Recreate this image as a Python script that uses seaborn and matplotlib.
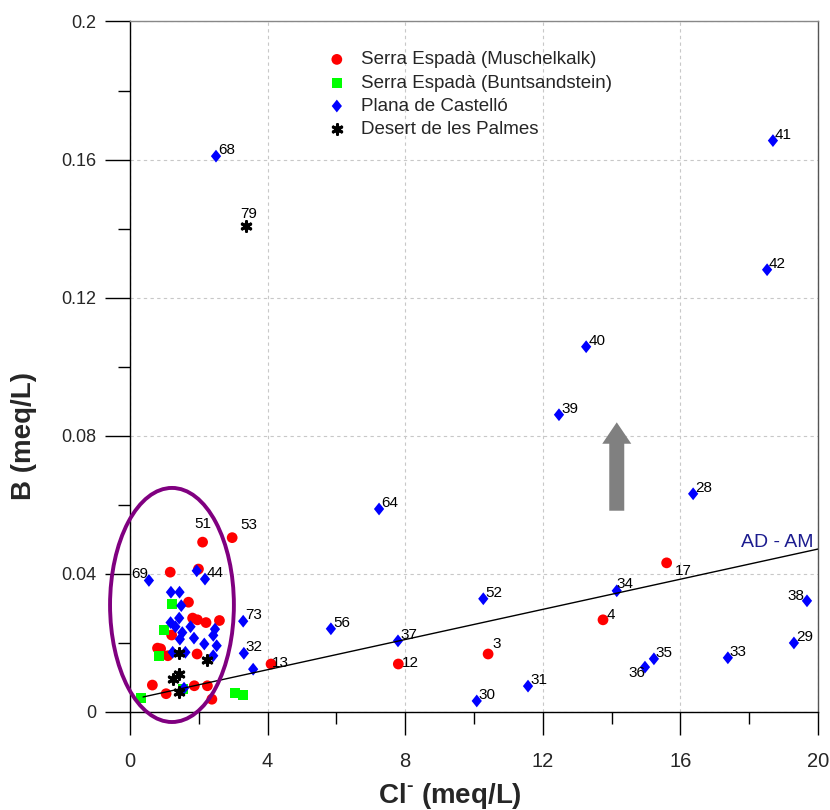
import numpy as np
import pandas as pd
import matplotlib
matplotlib.use("Agg")
import matplotlib.pyplot as plt
import seaborn as sns
from matplotlib.patches import Ellipse, FancyArrow
from matplotlib.ticker import MultipleLocator
from matplotlib.path import Path

# ---------------- data ----------------
musch_x = [2.11, 2.97, 1.17, 1.99, 1.70, 1.82, 1.96, 2.21, 2.60, 1.21, 0.80, 0.89,
           1.10, 1.95, 0.65, 1.05, 1.87, 2.25, 2.38, 4.10, 7.80, 10.41, 13.75, 15.60]
musch_y = [0.0492, 0.0505, 0.0405, 0.0414, 0.0318, 0.0272, 0.0267, 0.0259, 0.0265,
           0.0223, 0.0185, 0.0183, 0.0163, 0.0168, 0.0078, 0.0053, 0.0076, 0.0076,
           0.0037, 0.0139, 0.0139, 0.0168, 0.0267, 0.0432]
musch_lab = ["51", "53", "", "", "", "", "", "", "", "", "", "",
             "", "", "", "", "", "", "", "13", "12", "3", "4", "17"]

bunt_x = [1.23, 1.00, 0.84, 0.32, 1.55, 3.05, 3.28]
bunt_y = [0.0312, 0.0238, 0.0162, 0.0040, 0.0066, 0.0056, 0.0049]

plana_x = [2.50, 18.69, 18.52, 13.26, 12.47, 16.37, 7.24, 14.15, 19.68, 19.30, 17.38,
           15.23, 14.97, 10.27, 10.08, 11.57, 7.79, 5.84, 0.55, 2.18, 3.29, 3.31,
           1.94, 1.19, 1.44, 1.49, 1.43, 1.18, 1.32, 1.76, 1.52, 2.47, 2.42, 1.45,
           1.86, 2.16, 2.52, 1.24, 1.61, 2.42, 3.58, 1.57]
plana_y = [0.1610, 0.1655, 0.1281, 0.1058, 0.0861, 0.0632, 0.0588, 0.0351, 0.0322,
           0.0200, 0.0157, 0.0154, 0.0130, 0.0328, 0.0032, 0.0075, 0.0206, 0.0241,
           0.0381, 0.0385, 0.0263, 0.0170,
           0.0409, 0.0347, 0.0347, 0.0308, 0.0272, 0.0259, 0.0247, 0.0247, 0.0230,
           0.0240, 0.0222, 0.0211, 0.0214, 0.0197, 0.0192, 0.0173, 0.0173, 0.0163,
           0.0124, 0.0069]
plana_lab = ["68", "41", "42", "40", "39", "28", "64", "34", "38", "29", "33",
             "35", "36", "52", "30", "31", "37", "56", "69", "44", "73", "32"] + [""] * 20

desert_x = [1.42, 2.25, 1.43, 1.24, 1.42, 3.36]
desert_y = [0.0170, 0.0151, 0.0109, 0.0095, 0.0057, 0.1409]
desert_lab = ["", "", "", "", "", "79"]

mix_x = [0.38, 20.0]
mix_y = [0.00435, 0.0472]

group_names = ["Serra Espadà (Muschelkalk)", "Serra Espadà (Buntsandstein)",
               "Plana de Castelló", "Desert de les Palmes"]

x_ticks = [0, 4, 8, 12, 16, 20]
y_ticks = [0, 0.04, 0.08, 0.12, 0.16, 0.2]
y_ticklabels = ["0", "0.04", "0.08", "0.12", "0.16", "0.2"]

# ---------------- style ----------------
sns.set_theme(style="white")
plt.rcParams["font.family"] = ["Liberation Sans", "DejaVu Sans"]
plt.rcParams["mathtext.fontset"] = "custom"
plt.rcParams["mathtext.rm"] = "Liberation Sans:bold"
plt.rcParams["mathtext.bf"] = "Liberation Sans:bold"

fig = plt.figure(figsize=(8.3, 8.1), dpi=100)
ax = fig.add_axes([130 / 830, 1 - 712 / 810, 688 / 830, 690.5 / 810])

diamond = Path([(0, 1), (0.8, 0), (0, -1), (-0.8, 0), (0, 1)],
               [Path.MOVETO, Path.LINETO, Path.LINETO, Path.LINETO, Path.CLOSEPOLY])

df_m = pd.DataFrame({"x": musch_x, "y": musch_y})
df_b = pd.DataFrame({"x": bunt_x, "y": bunt_y})
df_p = pd.DataFrame({"x": plana_x, "y": plana_y})
df_d = pd.DataFrame({"x": desert_x, "y": desert_y})

sns.scatterplot(data=df_m, x="x", y="y", ax=ax, color="#ff0000", marker="o", s=60,
                edgecolor="none", label=group_names[0], zorder=3)
sns.scatterplot(data=df_b, x="x", y="y", ax=ax, color="#00ff00", marker="s", s=52,
                edgecolor="none", label=group_names[1], zorder=3)
sns.scatterplot(data=df_p, x="x", y="y", ax=ax, color="#0000ff", marker=diamond, s=85,
                edgecolor="none", label=group_names[2], zorder=3)
sns.scatterplot(data=df_d, x="x", y="y", ax=ax, color="black", marker=(6, 2, 0), s=48,
                linewidth=2.2, label=group_names[3], zorder=3)

# mixing line
sns.lineplot(x=mix_x, y=mix_y, ax=ax, color="black", linewidth=1.0, zorder=4,
             legend=False)

# point labels: offsets in pixels (dx, dy, ha)
label_style = {
    "51": (0, 14, "center"), "53": (8, 9, "left"), "69": (-1, 2, "right"),
    "38": (-3, 1, "right"), "36": (0, -10, "right"), "17": (8, -12, "left"),
    "79": (3, 8, "center"), "13": (1, -3, "left"), "12": (4, -3, "left"),
    "3": (4, 6, "left"), "4": (4, 1, "left"), "34": (0, 3, "left"),
}
for xs, ys, labs in [(musch_x, musch_y, musch_lab), (plana_x, plana_y, plana_lab),
                     (desert_x, desert_y, desert_lab)]:
    for xv, yv, lb in zip(xs, ys, labs):
        if not lb:
            continue
        dx, dy, ha = label_style.get(lb, (2, 2, "left"))
        ax.annotate(lb, (xv, yv), xytext=(dx, dy), textcoords="offset pixels",
                    ha=ha, va="baseline", fontsize=11, color="black", zorder=5)

# ellipse around cluster
ax.add_patch(Ellipse((1.22, 0.0310), width=3.60, height=0.0678, fill=False,
                     edgecolor="#800080", linewidth=2.8, clip_on=False, zorder=6))

# gray arrow
ax.add_patch(FancyArrow(14.15, 0.0583, 0, 0.0256, width=0.436, head_width=0.843,
                        head_length=0.0062, length_includes_head=True,
                        color="#808080", linewidth=0, zorder=2))

ax.text((813 - 130) / 688, 0.2394, "AD - AM", transform=ax.transAxes,
        ha="right", va="baseline", fontsize=14, color="#1c1c8f")

# axes
ax.set_xlim(0, 20)
ax.set_ylim(0, 0.2)
ax.set_xticks(x_ticks)
ax.set_xticklabels([str(t) for t in x_ticks])
ax.set_yticks(y_ticks)
ax.set_yticklabels(y_ticklabels)
ax.xaxis.set_minor_locator(MultipleLocator(2))
ax.yaxis.set_minor_locator(MultipleLocator(0.02))
ax.tick_params(axis="x", which="major", direction="out", length=16.5, width=1,
               color="black", labelsize=14.5, pad=12, bottom=True)
ax.tick_params(axis="x", which="minor", direction="out", length=8.6, width=1,
               color="black", bottom=True)
ax.tick_params(axis="y", which="major", direction="out", length=18, width=1,
               color="black", labelsize=13, pad=6.5, left=True)
ax.tick_params(axis="y", which="minor", direction="out", length=8.6, width=1,
               color="black", left=True)
ax.grid(True, which="major", color="#c8c8c8", linestyle=(0, (3, 3)), linewidth=0.8)

for side in ["left", "bottom"]:
    ax.spines[side].set_color("black")
    ax.spines[side].set_linewidth(1.0)
ax.spines["top"].set_color("#888888")
ax.spines["right"].set_color("#555555")
for side in ["top", "right"]:
    ax.spines[side].set_linewidth(1.0)

ax.set_xlabel(r"Cl$^{\text{-}}$ (meq/L)", fontsize=20, fontweight="bold")
ax.set_ylabel("B (meq/L)", fontsize=20, fontweight="bold")
ax.xaxis.set_label_coords(0.465, -0.100)
ax.yaxis.set_label_coords(-0.135, 0.40)

leg = ax.legend(loc="upper left", bbox_to_anchor=(0.287, 0.957), frameon=False,
                fontsize=13.5, handlelength=1.0, handletextpad=0.8,
                labelspacing=0.33, borderpad=0, borderaxespad=0, scatterpoints=1)

fig.savefig("out.png", dpi=100)
